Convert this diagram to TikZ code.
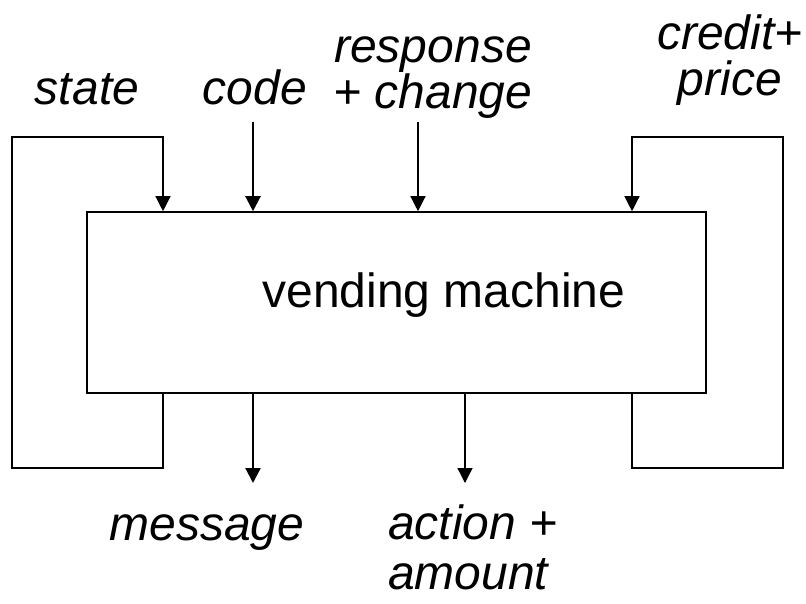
\documentclass[tikz,border=0pt]{standalone}
\usepackage{fontspec}
\setmainfont{Liberation Sans}
\usetikzlibrary{arrows.meta}
\begin{document}
\begin{tikzpicture}[x=1pt,y=-1pt,
  lbl/.style={font=\fontsize{48}{46}\selectfont\itshape, inner sep=0pt},
  flow/.style={line width=1.3pt},
  heavy/.style={line width=2.2pt},
  tip/.style={-{Triangle[width=15pt,length=15pt]}},
  line join=miter]
\useasboundingbox (0,0) rectangle (806,603);

% the machine
\node[draw, line width=1.6pt, minimum width=619pt, minimum height=181pt,
      inner sep=0pt] (vm) at (396.5,302.5) {};
\node[font=\fontsize{48}{50}\selectfont, inner sep=0pt, anchor=base]
      (vmtext) at (444,307) {vending machine};

% inputs and outputs
\coordinate (codetop) at (253,122);
\coordinate (resptop) at (418,122);
\coordinate (msgend)  at (253,483);
\coordinate (actend)  at (465,483);
\draw[heavy,tip] (codetop) -- (vm.north -| codetop);
\draw[flow,tip]  (resptop) -- (vm.north -| resptop);
\draw[heavy,tip] (vm.south -| msgend) -- (msgend);
\draw[flow,tip]  (vm.south -| actend) -- (actend);

% state feedback loop
\coordinate (sl1) at (163,468);
\coordinate (sl2) at (12,468);
\coordinate (sl3) at (12,137);
\coordinate (sl4) at (163,137);
\draw[flow,tip] (vm.south -| sl1) -- (sl1) -- (sl2) -- (sl3) -- (sl4) -- (vm.north -| sl4);

% credit feedback loop
\coordinate (cl1) at (632,468);
\coordinate (cl2) at (783,468);
\coordinate (cl3) at (783,137);
\coordinate (cl4) at (632,137);
\draw[flow,tip] (vm.south -| cl1) -- (cl1) -- (cl2) -- (cl3) -- (cl4) -- (vm.north -| cl4);

% labels
\node[lbl, anchor=base] (state) at (87,104) {state};
\node[lbl, anchor=base] (code) at (255,104) {code};
\node[lbl, align=center] (resp) at (433,78) {response\\+ change};
\node[lbl, align=center] (credit) at (730,60) {credit+\\price};
\node[lbl, anchor=base] (msg) at (207,540) {message};
\node[lbl, font=\fontsize{48}{50}\selectfont\itshape, align=left,
      anchor=north west] (act) at (388,505) {action +\\amount};
\end{tikzpicture}
\end{document}
